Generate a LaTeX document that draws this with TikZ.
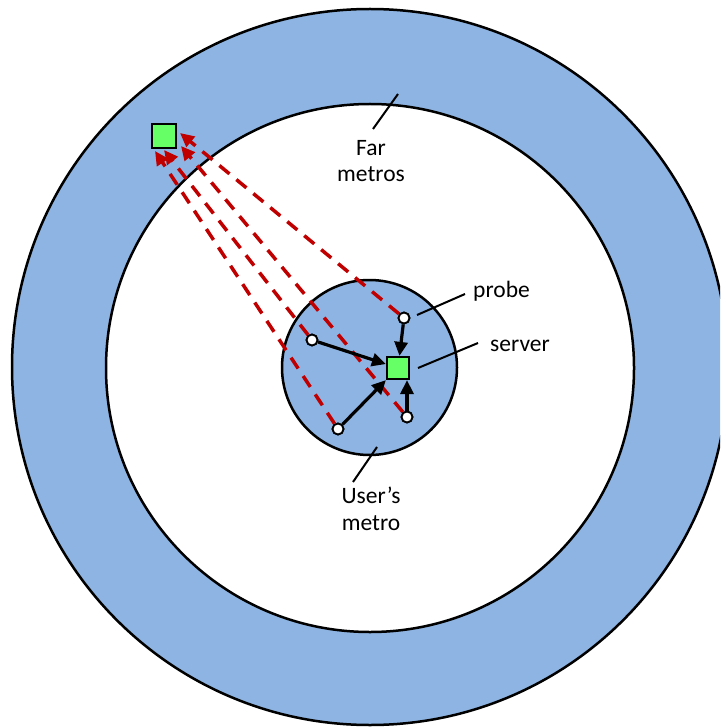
\documentclass[tikz,border=0pt]{standalone}
\usepackage{fontspec}
\setmainfont{Carlito}
\usetikzlibrary{arrows.meta}
\definecolor{metroblue}{RGB}{141,180,226}
\definecolor{srvgreen}{RGB}{102,255,102}
\definecolor{pathred}{RGB}{192,0,0}
\begin{document}
\begin{tikzpicture}[x=1pt,y=-1pt,
  ring/.style={draw=black,line width=2.5pt},
  srv/.style={rectangle,draw=black,fill=srvgreen,line width=2.2pt,minimum size=22pt,inner sep=0pt},
  probedot/.style={circle,draw=black,fill=white,line width=1.8pt,minimum size=11pt,inner sep=0pt},
  redpath/.style={draw=pathred,line width=3.5pt,dash pattern=on 13pt off 9pt,-{Triangle[length=14pt,width=13pt]}},
  blackarrow/.style={draw=black,line width=3.2pt,-{Triangle[length=14pt,width=13pt]}},
  leader/.style={draw=black,line width=2pt},
  lbl/.style={font=\fontsize{23.5}{26.5}\selectfont,align=center,inner sep=0pt}]
\useasboundingbox (0,0) rectangle (720,727);
\clip (0,0) rectangle (720,727);
% rings
\path[ring,fill=metroblue] (370,367) circle[radius=358pt];
\path[ring,fill=white] (370,368) circle[radius=264pt];
\path[ring,fill=metroblue] (369.5,367.5) circle[radius=87.5pt];
% nodes
\node[srv] (server) at (398,368) {};
\node[srv,minimum size=24pt] (far) at (164,136) {};
\node[probedot] (probe) at (404,318) {};
\node[probedot] (pl) at (312,340) {};
\node[probedot] (pbl) at (338,429) {};
\node[probedot] (pbr) at (407,417) {};
% arrow tip targets near the far server
\coordinate (tbl) at (155,151);
\coordinate (tl) at (164,150);
\coordinate (tbr) at (181,146);
\coordinate (tp) at (180,133);
% red dashed measurement paths
\draw[redpath] (pbl) -- (tbl);
\draw[redpath] (pl) -- (tl);
\draw[redpath] (pbr) -- (tbr);
\draw[redpath] (probe) -- (tp);
% redraw dots on top
\node[probedot] at (probe) {};
\node[probedot] at (pl) {};
\node[probedot] at (pbl) {};
\node[probedot] at (pbr) {};
% black arrows to the local server
\draw[blackarrow] (probe) -- (server);
\draw[blackarrow] (pl) -- (server);
\draw[blackarrow] (pbl) -- (server.south west);
\draw[blackarrow] (pbr) -- (pbr |- server.south);
% labels
\node[lbl] (farlbl) at (371,161) {Far\\metros};
\node[lbl] (userlbl) at (371,509) {User’s\\metro};
\node[lbl,anchor=base west] (probelbl) at (473,297) {probe};
\node[lbl,anchor=base west] (serverlbl) at (490,351) {server};
% leader lines
\coordinate (f1) at (373,129); \coordinate (f2) at (398,94);
\coordinate (p1) at (417,315); \coordinate (p2) at (465,294);
\coordinate (s1) at (418,368); \coordinate (s2) at (478,343);
\coordinate (u1) at (353,482); \coordinate (u2) at (377,447);
\draw[leader] (f1) -- (f2);
\draw[leader] (p1) -- (p2);
\draw[leader] (s1) -- (s2);
\draw[leader] (u1) -- (u2);
\end{tikzpicture}
\end{document}
